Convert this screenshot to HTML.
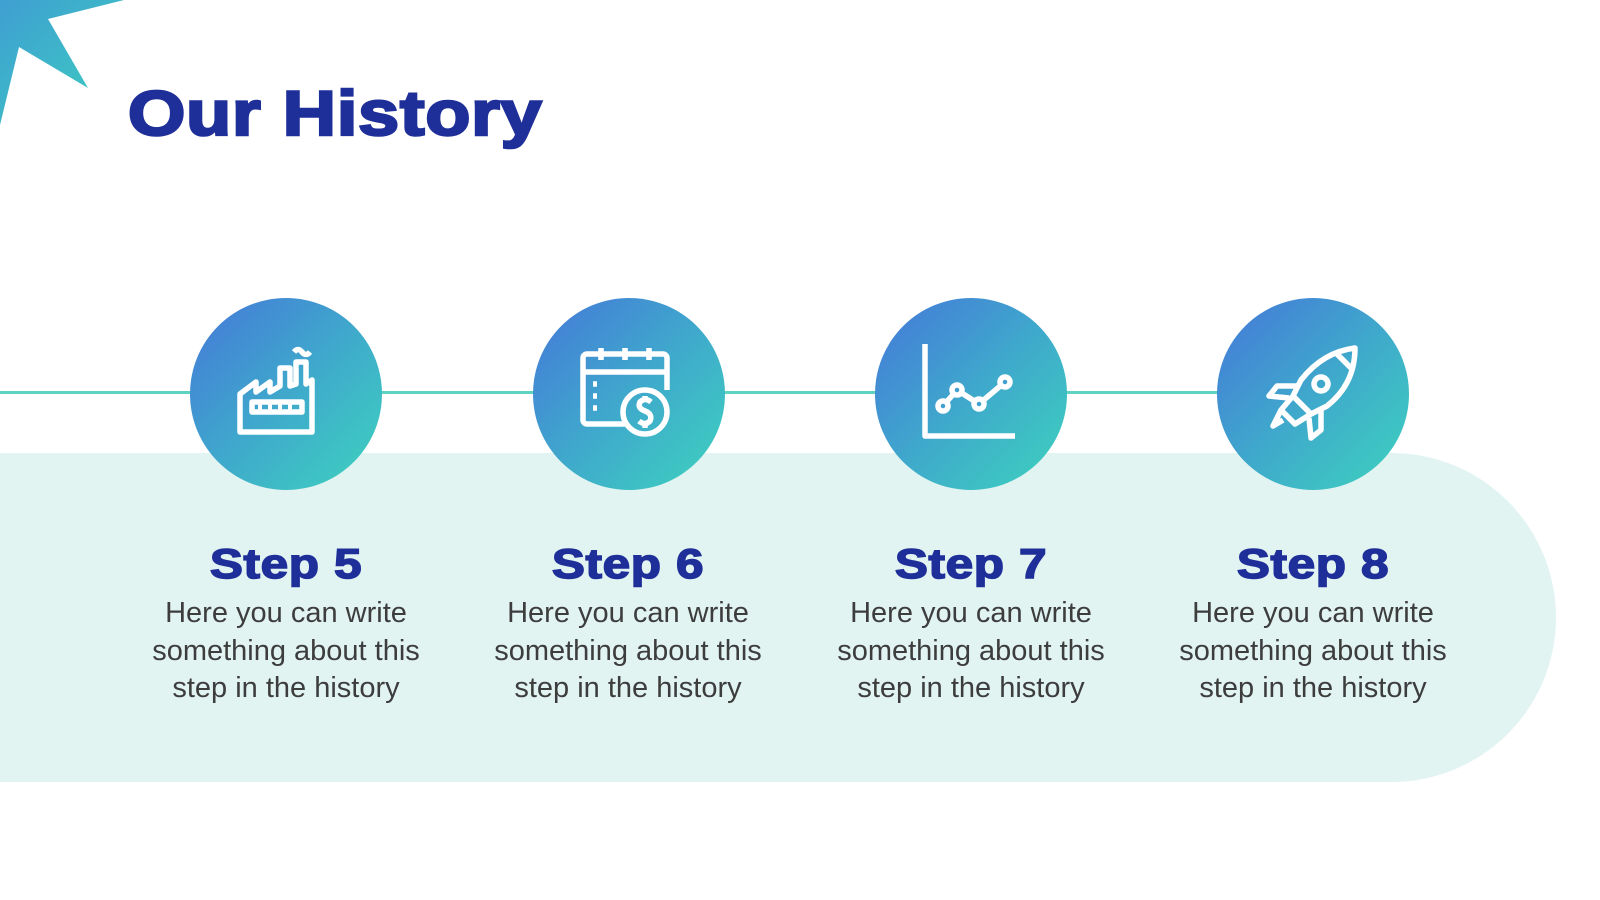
<!DOCTYPE html>
<html><head><meta charset="utf-8"><style>
body{margin:0;width:1600px;height:900px;overflow:hidden;background:#fff;position:relative;font-family:"Liberation Sans",sans-serif}
.band{position:absolute;left:0;top:453px;width:1556px;height:329px;background:#e1f4f2;border-radius:0 165px 165px 0}
.line{position:absolute;left:0;top:391px;width:1320px;height:3px;background:#5ed3c1}
.c{position:absolute;top:298px;width:192px;height:192px;border-radius:50%;background:linear-gradient(135deg,#4577d9 0%,#3fa8cc 50%,#3ed3be 100%)}
.c svg{position:absolute;left:46px;top:46px}
.st{position:absolute;top:540px;width:340px;text-align:center;font-weight:bold;font-size:42px;color:#1f2f99;transform:scaleX(1.18);letter-spacing:0.5px;-webkit-text-stroke:1.5px #1f2f99}
.bd{position:absolute;top:595px;width:360px;text-align:center;font-size:29px;line-height:37.5px;color:#3d3d3d}
.title{position:absolute;left:128px;top:78px;font-size:63px;font-weight:bold;color:#1f2f99;transform-origin:0 0;transform:scaleX(1.17);letter-spacing:0.7px;-webkit-text-stroke:2.5px #1f2f99}
</style></head><body>
<svg style="position:absolute;left:0;top:0" width="140" height="130"><defs><linearGradient id="g" x1="0" y1="0" x2="1" y2="1"><stop offset="0" stop-color="#3f9fd2"/><stop offset="1" stop-color="#3ccfbf"/></linearGradient></defs><polygon points="0,0 124,0 48,19 88,88 19,47 0,125" fill="url(#g)"/></svg>
<div class="title">Our History</div>
<div class="band"></div>
<div class="line"></div>

<div class="c" style="left:190px"><svg width="100" height="100" viewBox="0 0 100 100" fill="none" stroke="#fff" stroke-width="5.5" stroke-linejoin="round"><path d="M4 88 V50 L20 38 V48 L34 38 V48 L44 42 V24 H54 V42 L60 40 V18 H70 V40 L76 36 V88 Z"/><rect x="16" y="58" width="50" height="10"/><path d="M22 63h4M32 63h4M42 63h4M52 63h4" /><path d="M58 8 q4 -5 8 0 q4 5 8 0"/></svg></div>

<div class="c" style="left:533px"><svg width="100" height="100" viewBox="0 0 100 100" fill="none" stroke="#fff" stroke-width="5.5" stroke-linejoin="round"><path d="M48 80 H8 a4 4 0 0 1 -4 -4 V14 a4 4 0 0 1 4 -4 H84 a4 4 0 0 1 4 4 V46"/><path d="M4 28 H88M22 4v12M46 4v12M70 4v12"/><path d="M14 40h4M14 52h4M14 64h4"/><circle cx="66" cy="68" r="22"/><path d="M72 58 q-6 -5 -11 0 q-3 6 5 9 q8 3 5 10 q-5 5 -11 0 M66 52v4M66 80v4"/></svg></div>

<div class="c" style="left:875px"><svg width="100" height="100" viewBox="0 0 100 100" fill="none" stroke="#fff" stroke-width="5.5" stroke-linejoin="round"><path d="M4 0 V92 H94"/><path d="M22 62 L36 46 L58 60 L84 38"/><circle cx="22" cy="62" r="5" fill="#40a0d0"/><circle cx="36" cy="46" r="5" fill="#40a0d0"/><circle cx="58" cy="60" r="5" fill="#40a0d0"/><circle cx="84" cy="38" r="5" fill="#40a0d0"/></svg></div>

<div class="c" style="left:1217px"><svg width="100" height="100" viewBox="0 0 100 100" fill="none" stroke="#fff" stroke-width="5.5" stroke-linejoin="round"><path d="M92 4 Q60 8 38 36 L30 52 L48 70 L64 62 Q92 40 92 4 Z"/><circle cx="58" cy="40" r="7"/><path d="M74 10 L88 24"/><path d="M36 42 L14 42 L6 52 L26 54"/><path d="M58 64 L58 86 L48 94 L46 74"/><path d="M30 52 L18 66 L32 80 L48 70"/><path d="M18 66 L10 82 L20 76"/></svg></div>

<div class="st" style="left:116px">Step 5</div>
<div class="st" style="left:458px">Step 6</div>
<div class="st" style="left:801px">Step 7</div>
<div class="st" style="left:1143px">Step 8</div>
<div class="bd" style="left:106px">Here you can write<br>something about this<br>step in the history</div>
<div class="bd" style="left:448px">Here you can write<br>something about this<br>step in the history</div>
<div class="bd" style="left:791px">Here you can write<br>something about this<br>step in the history</div>
<div class="bd" style="left:1133px">Here you can write<br>something about this<br>step in the history</div>
</body></html>
